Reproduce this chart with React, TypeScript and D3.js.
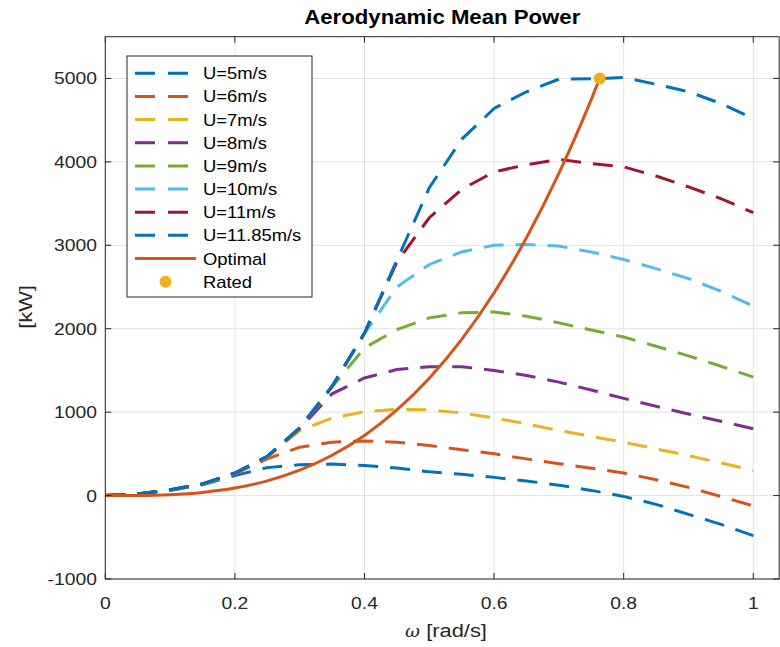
import React from "react";
import * as d3 from "d3";

const omega = [0, 0.05, 0.1, 0.15, 0.2, 0.25, 0.3, 0.35, 0.4, 0.45, 0.5, 0.55, 0.6, 0.65, 0.7, 0.75, 0.8, 0.85, 0.9, 0.95, 1];

const seriesNames = ["U=5m/s", "U=6m/s", "U=7m/s", "U=8m/s", "U=9m/s", "U=10m/s", "U=11m/s", "U=11.85m/s"];

const pU5 = [0, 18, 62, 130, 240, 335, 370, 378, 360, 330, 285, 255, 218, 175, 125, 62, -10, -105, -225, -345, -480];
const pU6 = [0, 19, 65, 135, 262, 440, 580, 640, 655, 640, 600, 550, 500, 440, 382, 328, 270, 190, 98, -10, -125];
const pU7 = [0, 19, 66, 137, 265, 460, 780, 930, 1005, 1035, 1028, 990, 930, 860, 780, 710, 640, 560, 478, 392, 300];
const pU8 = [0, 20, 67, 138, 267, 465, 800, 1220, 1410, 1510, 1545, 1545, 1500, 1440, 1360, 1265, 1165, 1070, 978, 890, 800];
const pU9 = [0, 20, 68, 139, 268, 468, 805, 1300, 1770, 1990, 2130, 2190, 2200, 2150, 2070, 1985, 1900, 1790, 1675, 1550, 1420];
const pU10 = [0, 20, 68, 140, 269, 469, 808, 1305, 1940, 2500, 2770, 2920, 3000, 3010, 2990, 2920, 2830, 2720, 2600, 2450, 2270];
const pU11 = [0, 20, 69, 140, 270, 470, 810, 1310, 1945, 2800, 3330, 3670, 3880, 3965, 4030, 3980, 3940, 3830, 3700, 3560, 3390];
const pU1185 = [0, 21, 70, 141, 271, 471, 812, 1312, 1950, 2820, 3690, 4270, 4640, 4840, 4990, 4995, 5010, 4930, 4840, 4700, 4520];

const seriesValues = [pU5, pU6, pU7, pU8, pU9, pU10, pU11, pU1185];
const seriesColors = ["#0072BD", "#D95319", "#EDB120", "#7E2F8E", "#77AC30", "#4DBEEE", "#A2142F", "#0072BD"];

const omegaOpt = [0, 0.05, 0.1, 0.15, 0.2, 0.25, 0.3, 0.35, 0.4, 0.45, 0.5, 0.55, 0.6, 0.65, 0.7, 0.75, 0.763];
const pOpt = [0, 1.4, 11, 38, 90, 176, 304, 483, 720, 1026, 1407, 1873, 2431, 3091, 3861, 4749, 5000];

const ratedOmega = [0.763];
const ratedPower = [5000];

const xTicks = [0, 0.2, 0.4, 0.6, 0.8, 1];
const yTicks = [-1000, 0, 1000, 2000, 3000, 4000, 5000];

const FONT = "'Liberation Sans', Arial, Helvetica, sans-serif";
const AXC = "#262626";
const SX = 1.15;

function T(props: {
  x: number;
  y: number;
  size: number;
  anchor?: string;
  weight?: string;
  fill?: string;
  rotate?: number;
  children: React.ReactNode;
}) {
  const { x, y, size, anchor = "start", weight = "normal", fill = AXC, rotate = 0, children } = props;
  return (
    <text
      transform={`translate(${x},${y}) rotate(${rotate}) scale(${SX},1)`}
      textAnchor={anchor}
      fontSize={size}
      fontWeight={weight}
      fill={fill}
    >
      {children}
    </text>
  );
}

export default function App() {
  const left = 105.3, right = 779.2, top = 36.7, bottom = 579;
  const x = d3.scaleLinear().domain([0, 1.04]).range([left, right]);
  const y = d3.scaleLinear().domain([-1000, 5500]).range([bottom, top]);

  const line = d3.line<[number, number]>().x((d) => x(d[0])).y((d) => y(d[1]));
  const optLine = d3
    .line<[number, number]>()
    .x((d) => x(d[0]))
    .y((d) => y(d[1]))
    .curve(d3.curveMonotoneX);

  const legendX = 127, legendY = 56, legendW = 185, legendH = 241;
  const rowY0 = 73.3, rowStep = 23.15;
  const entries = [
    ...seriesNames.map((n, i) => ({ name: n, color: seriesColors[i], type: "dash" })),
    { name: "Optimal", color: "#D95319", type: "solid" },
    { name: "Rated", color: "#EDB120", type: "dot" },
  ];

  return (
    <svg
      width={780}
      height={647}
      style={{ position: "absolute", left: 0, top: 0, background: "#fff" }}
      fontFamily={FONT}
    >
      <rect x={0} y={0} width={780} height={647} fill="#fff" />
      <defs>
        <clipPath id="clip">
          <rect x={left} y={top - 8} width={right - left} height={bottom - top + 8} />
        </clipPath>
      </defs>
      {/* grid */}
      {xTicks.map((t) => (
        <line key={"gx" + t} x1={x(t)} x2={x(t)} y1={top} y2={bottom} stroke="#e3e3e3" strokeWidth={1} />
      ))}
      {yTicks.map((t) => (
        <line key={"gy" + t} x1={left} x2={right} y1={y(t)} y2={y(t)} stroke="#e3e3e3" strokeWidth={1} />
      ))}

      {/* series */}
      <g clipPath="url(#clip)">
        {seriesValues.map((vals, i) => (
          <path
            key={"s" + i}
            d={line(omega.map((o, j) => [o, vals[j]] as [number, number])) || ""}
            fill="none"
            stroke={seriesColors[i]}
            strokeWidth={3}
            strokeDasharray="20 12"
          />
        ))}
        <path
          d={optLine(omegaOpt.map((o, j) => [o, pOpt[j]] as [number, number])) || ""}
          fill="none"
          stroke="#D95319"
          strokeWidth={3}
        />
        {ratedOmega.map((o, i) => (
          <circle key={"r" + i} cx={x(o)} cy={y(ratedPower[i])} r={6} fill="#EDB120" />
        ))}
      </g>

      {/* axes box */}
      <rect x={left} y={top} width={right - left} height={bottom - top} fill="none" stroke={AXC} strokeWidth={1} />
      {xTicks.map((t) => (
        <g key={"tx" + t}>
          <line x1={x(t)} x2={x(t)} y1={bottom} y2={bottom - 6} stroke={AXC} />
          <line x1={x(t)} x2={x(t)} y1={top} y2={top + 6} stroke={AXC} />
          <T x={x(t)} y={609} size={16.8} anchor="middle">
            {String(t)}
          </T>
        </g>
      ))}
      {yTicks.map((t) => (
        <g key={"ty" + t}>
          <line x1={left} x2={left + 6} y1={y(t)} y2={y(t)} stroke={AXC} />
          <line x1={right} x2={right - 6} y1={y(t)} y2={y(t)} stroke={AXC} />
          <T x={97} y={y(t) + 6} size={16.8} anchor="end">
            {String(t)}
          </T>
        </g>
      ))}

      {/* title and labels */}
      <T x={(left + right) / 2} y={24} size={19.3} anchor="middle" weight="bold" fill="#000">
        Aerodynamic Mean Power
      </T>
      <T x={446} y={637} size={19} anchor="middle">
        <tspan fontStyle="italic" fontFamily="'DejaVu Serif', serif" fontSize={16}>ω</tspan>
        <tspan> [rad/s]</tspan>
      </T>
      <T x={32} y={307} size={19} anchor="middle" rotate={-90}>
        [kW]
      </T>

      {/* legend */}
      <rect x={legendX} y={legendY} width={legendW} height={legendH} fill="#fff" stroke={AXC} strokeWidth={1} />
      {entries.map((e, i) => {
        const cy = rowY0 + i * rowStep;
        return (
          <g key={"lg" + i}>
            {e.type === "dash" && (
              <line x1={135} x2={188} y1={cy} y2={cy} stroke={e.color} strokeWidth={3} strokeDasharray="20 13" />
            )}
            {e.type === "solid" && <line x1={135} x2={196} y1={cy} y2={cy} stroke={e.color} strokeWidth={3} />}
            {e.type === "dot" && <circle cx={165.5} cy={cy} r={6} fill={e.color} />}
            <T x={203} y={cy + 6} size={16} fill="#000">
              {e.name}
            </T>
          </g>
        );
      })}
    </svg>
  );
}
